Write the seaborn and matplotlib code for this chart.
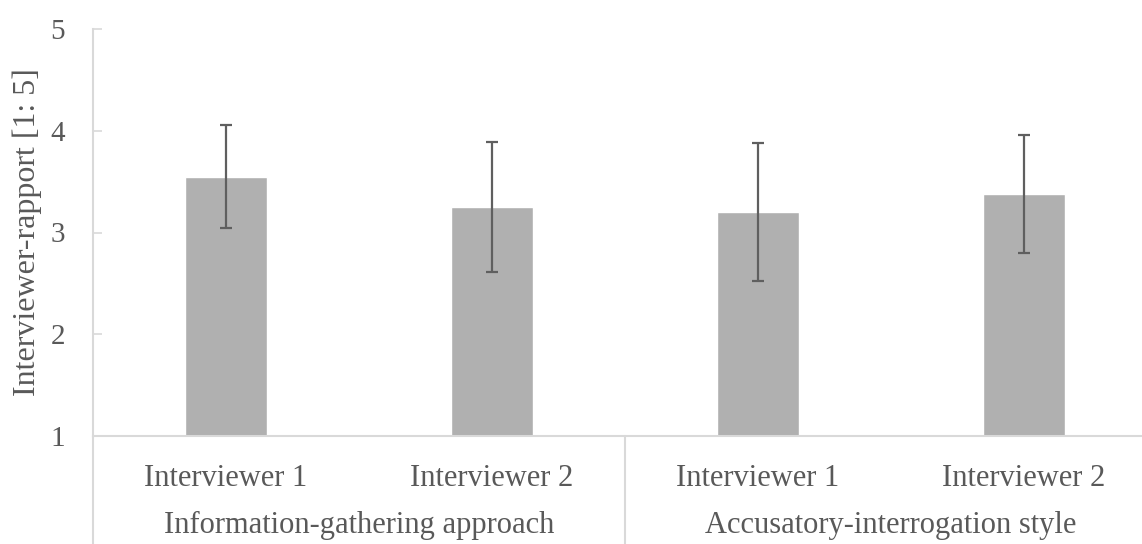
import matplotlib
matplotlib.use("Agg")
import matplotlib.pyplot as plt
import matplotlib.transforms as mtransforms
import seaborn as sns
import pandas as pd

# Mean interviewer-rapport ratings and standard deviations per condition
groups = ["Information-gathering approach", "Information-gathering approach",
          "Accusatory-interrogation style", "Accusatory-interrogation style"]
interviewers = ["Interviewer 1", "Interviewer 2", "Interviewer 1", "Interviewer 2"]
means = [3.55, 3.25, 3.20, 3.38]
sds = [0.51, 0.64, 0.68, 0.58]
group_names = ["Information-gathering approach", "Accusatory-interrogation style"]
y_ticks = [1, 2, 3, 4, 5]

df = pd.DataFrame({
    "cond": [f"{g}|{i}" for g, i in zip(groups, interviewers)],
    "group": groups,
    "interviewer": interviewers,
    "mean": means,
    "sd": sds,
})

sns.set_theme(style="white")
plt.rcParams["font.family"] = ["Liberation Serif", "DejaVu Serif"]

text_col = "#595959"
line_col = "#d9d9d9"
bar_col = "#b0b0b0"
err_col = "#5f5f5f"

W, H = 1142, 544
fig = plt.figure(figsize=(W / 100, H / 100), dpi=100)
left_px, right_px, top_px, bottom_px = 93, 1142, 29, 436
ax = fig.add_axes([left_px / W, 1 - bottom_px / H,
                   (right_px - left_px) / W, (bottom_px - top_px) / H])

sns.barplot(data=df, x="cond", y="mean", color=bar_col, width=0.31,
            errorbar=None, saturation=1, ax=ax)
ax.errorbar(range(len(df)), df["mean"], yerr=df["sd"], fmt="none",
            ecolor=err_col, elinewidth=1.6, capsize=4.5, capthick=1.6, zorder=3)

slot_px = 266
ax.set_xlim(-0.5, -0.5 + (right_px - left_px) / slot_px)
ax.set_ylim(1, 5)
ax.set_yticks(y_ticks)
ax.set_yticklabels([str(v) for v in y_ticks])
ax.set_xticks(range(len(df)))
ax.set_xticklabels(df["interviewer"])
ax.set_xlabel("")
ax.set_ylabel("Interviewer-rapport [1: 5]", fontsize=23, color=text_col, labelpad=6)

ax.tick_params(axis="y", which="both", left=True, direction="in", length=6.5,
               width=1.2, color=line_col, labelsize=21, labelcolor=text_col, pad=20)
ax.tick_params(axis="x", bottom=False, labelsize=22, labelcolor=text_col, pad=14)

for s in ["top", "right"]:
    ax.spines[s].set_visible(False)
for s in ["left", "bottom"]:
    ax.spines[s].set_color(line_col)
    ax.spines[s].set_linewidth(1.5)

# Category separators running below the axis
trans = mtransforms.blended_transform_factory(ax.transData, ax.transAxes)
depth = -(H - bottom_px) / (bottom_px - top_px)
for xs in [-0.5, 1.5]:
    ax.plot([xs, xs], [0, depth], transform=trans, color=line_col,
            lw=1.5, clip_on=False)

# Group labels
for k, name in enumerate(group_names):
    ax.text(2 * k + 0.5, -89 / (bottom_px - top_px), name, transform=trans,
            ha="center", va="center", fontsize=22, color=text_col)

fig.savefig("out.png", dpi=100)
